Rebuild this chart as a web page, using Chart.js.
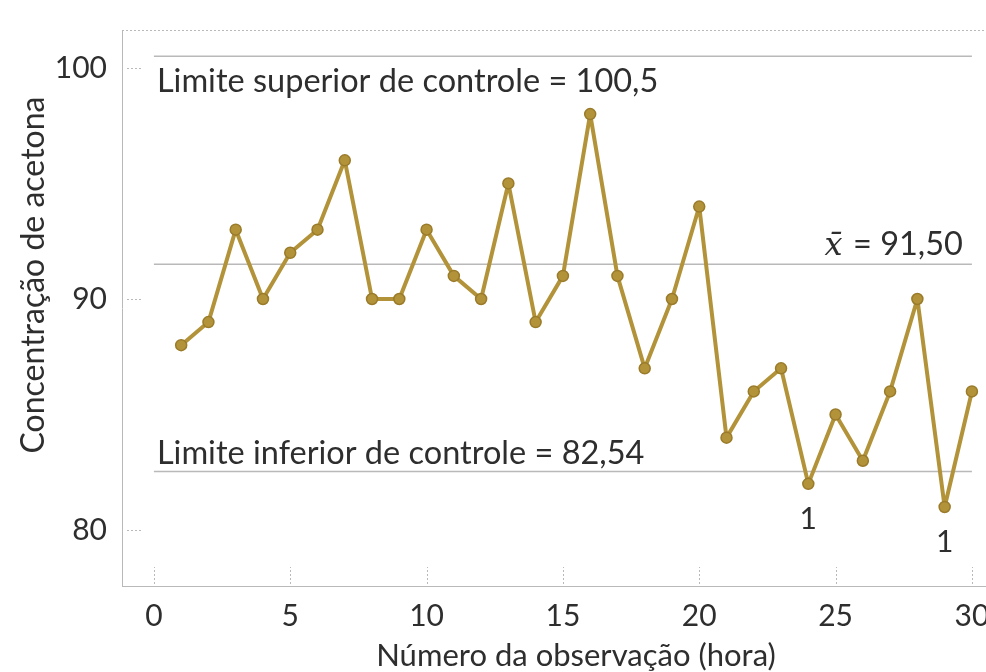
<!DOCTYPE html>
<html lang="pt">
<head>
  <meta charset="UTF-8">
  <title>Concentração de acetona - gráfico de controle</title>
  <script src="https://cdn.jsdelivr.net/npm/chart.js"></script>
  <style>
    html, body { margin: 0; padding: 0; background: #fff; }
  </style>
</head>
<body>
<canvas id="grafico" width="986" height="672"></canvas>

<script>
  // dados
  const observacoes = [1, 2, 3, 4, 5, 6, 7, 8, 9, 10, 11, 12, 13, 14, 15,
                       16, 17, 18, 19, 20, 21, 22, 23, 24, 25, 26, 27, 28, 29, 30];
  const concentracao = [88, 89, 93, 90, 92, 93, 96, 90, 90, 93, 91, 90, 95, 89, 91,
                        98, 91, 87, 90, 94, 84, 86, 87, 82, 85, 83, 86, 90, 81, 86];
  const xTicks = [0, 5, 10, 15, 20, 25, 30];
  const yTicks = [80, 90, 100];
  const limiteSuperior = 100.5;
  const media = 91.5;
  const limiteInferior = 82.54;
  const foraDeControle = [24, 29];   // pontos marcados com "1"

  const corLinha = '#b3933a';
  const corTexto = '#2e2e2e';
  const corGrade = '#b9b9b9';

  const pontos = observacoes.map((x, i) => ({ x: x, y: concentracao[i] }));
  const linhaHoriz = v => [{ x: 0, y: v }, { x: 30, y: v }];

  // textos, marcas internas e moldura superior
  const extras = {
    id: 'extras',
    beforeDatasetsDraw(chart) {
      const { ctx, chartArea: a, scales: { x, y } } = chart;
      ctx.save();
      ctx.strokeStyle = corGrade;
      ctx.lineWidth = 1;
      ctx.setLineDash([2, 2]);
      ctx.beginPath();
      ctx.moveTo(a.left, a.top + 0.5);
      ctx.lineTo(a.right + 1, a.top + 0.5);
      yTicks.forEach(v => {
        const py = Math.round(y.getPixelForValue(v)) + 0.5;
        ctx.moveTo(a.left + 5, py);
        ctx.lineTo(a.left + 19, py);
      });
      xTicks.forEach(v => {
        const px = Math.round(x.getPixelForValue(v)) + 0.5;
        ctx.moveTo(px, a.bottom - 2);
        ctx.lineTo(px, a.bottom - 19);
      });
      ctx.stroke();
      ctx.restore();
    },
    afterDatasetsDraw(chart) {
      const { ctx, chartArea: a, scales: { x, y } } = chart;
      ctx.save();
      ctx.fillStyle = corTexto;
      ctx.font = '32.5px Lato';
      ctx.textBaseline = 'alphabetic';
      ctx.textAlign = 'left';
      const x0 = x.getPixelForValue(0) + 3;
      ctx.fillText('Limite superior de controle = 100,5', x0, y.getPixelForValue(limiteSuperior) + 36);
      ctx.fillText('Limite inferior de controle = 82,54', x0, y.getPixelForValue(limiteInferior) - 7);

      // x barra = 91,50
      const resto = ' = 91,50';
      const xd = x.getPixelForValue(30) - 9;
      const yb = y.getPixelForValue(media) - 9;
      const wResto = ctx.measureText(resto).width;
      ctx.textAlign = 'right';
      ctx.fillText(resto, xd, yb);
      ctx.font = 'italic 32px "DejaVu Serif"';
      ctx.fillText('x\u0304', xd - wResto - 2, yb);

      ctx.font = '30px Lato';
      ctx.textAlign = 'center';
      ctx.textBaseline = 'top';
      foraDeControle.forEach(n => {
        ctx.fillText('1', x.getPixelForValue(n), y.getPixelForValue(concentracao[n - 1]) + 20);
      });

      // títulos dos eixos
      ctx.textBaseline = 'middle';
      ctx.font = '31px Lato';
      ctx.fillText('Número da observação (hora)', a.left + 454, chart.height - 16);
      ctx.translate(34, 275);
      ctx.rotate(-Math.PI / 2);
      ctx.font = '32px Lato';
      ctx.fillText('Concentração de acetona', 0, 0);
      ctx.restore();
    }
  };

  new Chart(document.getElementById('grafico'), {
    type: 'line',
    data: {
      datasets: [
        {
          data: pontos,
          borderColor: corLinha,
          borderWidth: 4,
          borderJoinStyle: 'round',
          pointRadius: 5.5,
          pointBackgroundColor: corLinha,
          pointBorderColor: '#9a7b2a',
          pointBorderWidth: 1.5,
          tension: 0,
          clip: false,
          order: 0
        },
        { data: linhaHoriz(limiteSuperior), borderColor: corGrade, borderWidth: 1.5, pointRadius: 0, order: 1 },
        { data: linhaHoriz(media), borderColor: corGrade, borderWidth: 1.5, pointRadius: 0, order: 1 },
        { data: linhaHoriz(limiteInferior), borderColor: corGrade, borderWidth: 1.5, pointRadius: 0, order: 1 }
      ]
    },
    options: {
      responsive: false,
      animation: false,
      devicePixelRatio: 1,
      layout: { autoPadding: false, padding: { top: 30, left: 0, right: 1, bottom: 0 } },
      plugins: { legend: { display: false }, tooltip: { enabled: false } },
      scales: {
        x: {
          type: 'linear',
          min: -1.17,
          max: 30.48,
          afterBuildTicks: s => { s.ticks = xTicks.map(v => ({ value: v })); },
          afterFit: s => { s.height = 86; s.paddingLeft = 0; s.paddingRight = 0; },
          grid: { display: false, drawTicks: false },
          border: { display: true, color: corGrade, width: 1, dash: [2, 2] },
          ticks: { padding: 12, color: corTexto, font: { family: 'Lato', size: 30 } }
        },
        y: {
          min: 77.58,
          max: 101.64,
          afterBuildTicks: s => { s.ticks = yTicks.map(v => ({ value: v })); },
          afterFit: s => { s.width = 122; s.paddingTop = 0; s.paddingBottom = 0; },
          grid: { display: false, drawTicks: false },
          border: { display: true, color: corGrade, width: 1, dash: [2, 2] },
          ticks: { padding: 15, color: corTexto, font: { family: 'Lato', size: 30 } }
        }
      }
    },
    plugins: [extras]
  });
</script>
</body>
</html>
